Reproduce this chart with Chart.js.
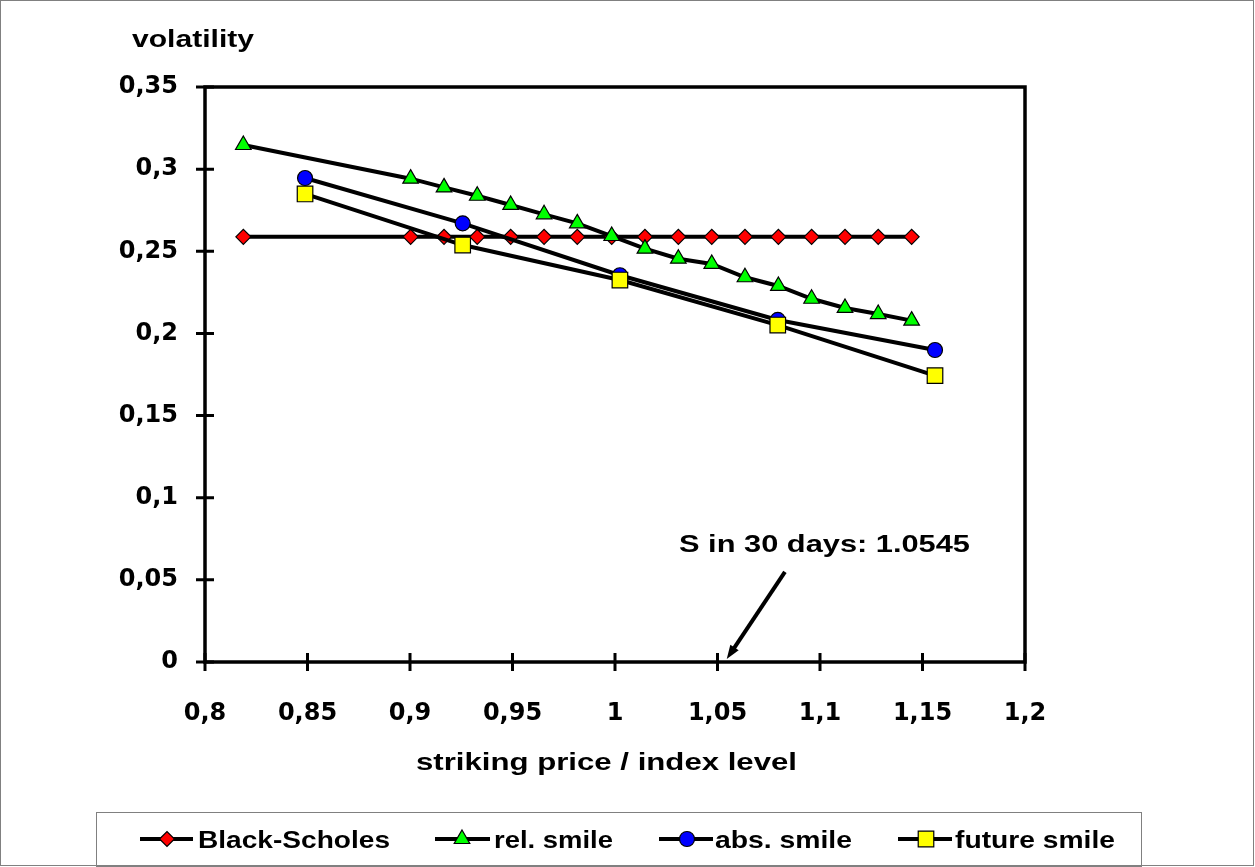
<!DOCTYPE html>
<html>
<head>
<meta charset="utf-8">
<script src="https://cdn.jsdelivr.net/npm/chart.js@4.4.1/dist/chart.umd.min.js"></script>
<style>
  html, body { margin: 0; padding: 0; background: #fff; }
  canvas { display: block; }
</style>
</head>
<body>
<canvas id="chart" width="1255" height="867"></canvas>
<script>
// strikes used by the Black-Scholes and relative smile series
const strikeFine = [0.8187, 0.9003, 0.9166, 0.9328, 0.9491, 0.9654, 0.9816, 0.9984, 1.0146,
                    1.0309, 1.0472, 1.0634, 1.0797, 1.0959, 1.1122, 1.1284, 1.1447];
const volBlackScholes = [0.2588, 0.2588, 0.2588, 0.2588, 0.2588, 0.2588, 0.2588, 0.2588, 0.2588,
                         0.2588, 0.2588, 0.2588, 0.2588, 0.2588, 0.2588, 0.2588, 0.2588];
const volRelSmile = [0.3147, 0.2942, 0.2889, 0.2838, 0.2782, 0.2725, 0.2670, 0.2593, 0.2516,
                     0.2455, 0.2423, 0.2342, 0.2289, 0.2211, 0.2155, 0.2118, 0.2078];
// strikes used by the absolute and future smile series
const strikeCoarse = [0.8488, 0.9257, 1.0024, 1.0794, 1.1561];
const volAbsSmile = [0.2946, 0.2670, 0.2354, 0.2082, 0.1899];
const volFutureSmile = [0.2849, 0.2538, 0.2325, 0.2051, 0.1743];

const xTicks = [0.8, 0.85, 0.9, 0.95, 1, 1.05, 1.1, 1.15, 1.2];
const yTicks = [0, 0.05, 0.1, 0.15, 0.2, 0.25, 0.3, 0.35];

const spotIn30Days = 1.0545;
const noteText = 'S in 30 days: 1.0545';

const TICK_FONT = '"DejaVu Sans", "Liberation Sans", Arial, sans-serif';
const TEXT_FONT = '"Liberation Sans", Arial, sans-serif';

const pts = (xs, ys) => xs.map((x, i) => ({ x, y: ys[i] }));
const fmt = v => String(Math.round(v * 100) / 100).replace('.', ',');

const series = [
  { label: 'Black-Scholes', data: pts(strikeFine, volBlackScholes), style: 'rectRot', r: 7.5, fill: '#ff0000', order: 4 },
  { label: 'rel. smile', data: pts(strikeFine, volRelSmile), style: 'triangle', r: 9, fill: '#00ff00', order: 3 },
  { label: 'abs. smile', data: pts(strikeCoarse, volAbsSmile), style: 'circle', r: 7.5, fill: '#0000ff', order: 2 },
  { label: 'future smile', data: pts(strikeCoarse, volFutureSmile), style: 'rect', r: 11, fill: '#ffff00', order: 1 }
];

// fit text between two x positions (the original is drawn a bit wide)
function fitText(ctx, text, left, right, baseline) {
  const w = ctx.measureText(text).width;
  ctx.save();
  ctx.translate(left, baseline);
  ctx.scale((right - left) / w, 1);
  ctx.textAlign = 'left';
  ctx.textBaseline = 'alphabetic';
  ctx.fillText(text, 0, 0);
  ctx.restore();
}

function marker(ctx, s, x, y) {
  ctx.save();
  ctx.fillStyle = s.fill;
  ctx.strokeStyle = '#000';
  ctx.lineWidth = 1.2;
  Chart.helpers.drawPoint(ctx, { pointStyle: s.style, radius: s.r, rotation: 0, borderWidth: 1.2 }, x, y);
  ctx.restore();
}

const framePlugin = {
  id: 'frame',
  beforeDatasetsDraw(chart) {
    const { ctx, chartArea: a, scales: { x, y } } = chart;
    ctx.save();
    ctx.strokeStyle = '#000';
    ctx.lineWidth = 3.5;
    ctx.strokeRect(a.left, a.top, a.right - a.left, a.bottom - a.top);
    ctx.lineWidth = 3;
    ctx.beginPath();
    xTicks.forEach(v => {
      const px = x.getPixelForValue(v);
      ctx.moveTo(px, a.bottom - 9); ctx.lineTo(px, a.bottom + 9);
    });
    yTicks.forEach(v => {
      const py = y.getPixelForValue(v);
      ctx.moveTo(a.left - 9, py); ctx.lineTo(a.left + 9, py);
    });
    ctx.stroke();
    ctx.restore();
  },
  afterDraw(chart) {
    const { ctx, scales: { x, y } } = chart;
    ctx.save();
    ctx.fillStyle = '#000';
    ctx.font = 'bold 24px ' + TEXT_FONT;
    fitText(ctx, 'volatility', 132, 254, 47);
    fitText(ctx, 'striking price / index level', 416, 797, 770);
    fitText(ctx, noteText, 679, 970, 552);

    // arrow pointing to the expected index level
    const tipX = x.getPixelForValue(spotIn30Days), tipY = y.getPixelForValue(0.0018);
    const tailX = x.getPixelForValue(1.0829), tailY = y.getPixelForValue(0.0548);
    const ang = Math.atan2(tipY - tailY, tipX - tailX);
    ctx.strokeStyle = '#000';
    ctx.lineWidth = 4;
    ctx.beginPath();
    ctx.moveTo(tailX, tailY);
    ctx.lineTo(tipX - 9 * Math.cos(ang), tipY - 9 * Math.sin(ang));
    ctx.stroke();
    ctx.beginPath();
    ctx.moveTo(tipX, tipY);
    ctx.lineTo(tipX - 14 * Math.cos(ang) + 5 * Math.sin(ang), tipY - 14 * Math.sin(ang) - 5 * Math.cos(ang));
    ctx.lineTo(tipX - 14 * Math.cos(ang) - 5 * Math.sin(ang), tipY - 14 * Math.sin(ang) + 5 * Math.cos(ang));
    ctx.closePath();
    ctx.fill();

    // legend box
    ctx.strokeStyle = '#808080';
    ctx.lineWidth = 1;
    ctx.strokeRect(96.5, 812.5, 1045, 54);
    const legendPos = [[140, 193, 167, 198, 390], [435, 490, 462, 494, 613], [659, 713, 687, 715, 852], [898, 952, 926, 955, 1115]];
    series.forEach((s, i) => {
      const [l0, l1, m, t0, t1] = legendPos[i];
      ctx.strokeStyle = '#000';
      ctx.lineWidth = 4;
      ctx.beginPath(); ctx.moveTo(l0, 839); ctx.lineTo(l1, 839); ctx.stroke();
      marker(ctx, s, m, 839);
      ctx.fillStyle = '#000';
      fitText(ctx, s.label, t0, t1, 848);
    });

    // outer border
    ctx.strokeStyle = '#808080';
    ctx.lineWidth = 1;
    ctx.strokeRect(0.5, 0.5, 1253, 865);
    ctx.restore();
  }
};

new Chart(document.getElementById('chart'), {
  type: 'line',
  data: {
    datasets: series.map(s => ({
      label: s.label,
      data: s.data,
      order: s.order,
      borderColor: '#000',
      borderWidth: 4,
      tension: 0,
      fill: false,
      pointStyle: s.style,
      pointRadius: s.r,
      pointHoverRadius: s.r,
      pointBackgroundColor: s.fill,
      pointBorderColor: '#000',
      pointBorderWidth: 1.2
    }))
  },
  options: {
    responsive: false,
    devicePixelRatio: 1,
    animation: false,
    layout: { padding: { top: 87, right: 230, bottom: 0, left: 0 } },
    plugins: { legend: { display: false }, tooltip: { enabled: false }, title: { display: false } },
    scales: {
      x: {
        type: 'linear', min: 0.8, max: 1.2,
        afterBuildTicks: s => { s.ticks = xTicks.map(v => ({ value: v })); },
        afterFit: s => { s.height = 205; },
        grid: { display: false, drawTicks: false },
        border: { display: false },
        ticks: { padding: 37, color: '#000', font: { family: TICK_FONT, size: 24, weight: 'bold' }, callback: v => fmt(v), maxRotation: 0, autoSkip: false }
      },
      y: {
        type: 'linear', min: 0, max: 0.35,
        afterBuildTicks: s => { s.ticks = yTicks.map(v => ({ value: v })); },
        afterFit: s => { s.width = 205; },
        grid: { display: false, drawTicks: false },
        border: { display: false },
        ticks: { padding: 27, color: '#000', font: { family: TICK_FONT, size: 24, weight: 'bold' }, callback: v => fmt(v) }
      }
    }
  },
  plugins: [framePlugin]
});
</script>
</body>
</html>
